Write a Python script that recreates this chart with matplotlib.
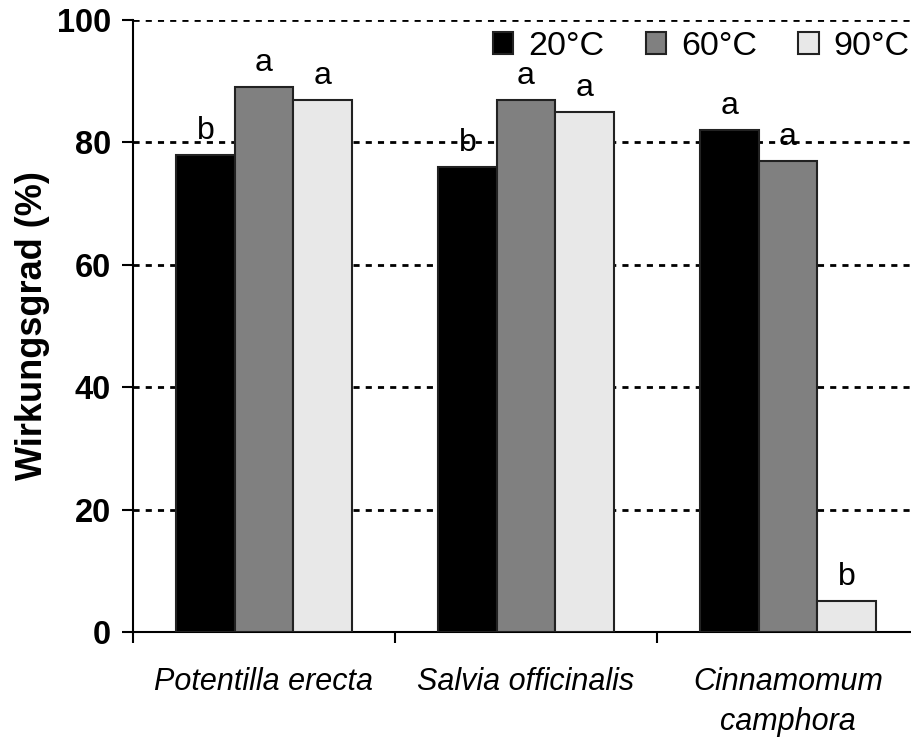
import matplotlib
matplotlib.use("Agg")
import matplotlib.pyplot as plt
import numpy as np

plt.rcParams['font.family'] = ['Liberation Sans', 'DejaVu Sans']

categories = ["Potentilla erecta", "Salvia officinalis", "Cinnamomum\ncamphora"]
series_names = ["20°C", "60°C", "90°C"]
values_20 = [78, 76, 82]
values_60 = [89, 87, 77]
values_90 = [87, 85, 5]
letters_20 = ["b", "b", "a"]
letters_60 = ["a", "a", "a"]
letters_90 = ["a", "a", "b"]
y_ticks = [0, 20, 40, 60, 80, 100]

colors = ["#000000", "#808080", "#e8e8e8"]

fig = plt.figure(figsize=(9.11, 7.37), dpi=100)
ax = fig.add_axes([133/911, 1-632/737, (919-133)/911, (632-20)/737])

x = np.arange(len(categories))
w = 0.223
all_vals = [values_20, values_60, values_90]
all_letters = [letters_20, letters_60, letters_90]
for i, (vals, lets) in enumerate(zip(all_vals, all_letters)):
    pos = x + (i - 1) * w
    ax.bar(pos, vals, width=w, color=colors[i], edgecolor="#222222",
           linewidth=1.5, label=series_names[i], zorder=3)
    for p, v, l in zip(pos, vals, lets):
        ax.annotate(l, (p, v), xytext=(0, 6.5), textcoords="offset points",
                    ha="center", va="bottom", fontsize=23, zorder=4)

ax.set_xlim(-0.5, 2.5)
ax.set_ylim(0, 100)
ax.set_yticks(y_ticks)
ax.set_yticklabels([str(t) for t in y_ticks], fontsize=23.5, fontweight="bold")
for t in y_ticks[1:]:
    ax.axhline(t, color="black", linewidth=2.0, linestyle=(0, (2.2, 2.2)), zorder=1)

ax.set_xticks(x)
ax.set_xticklabels(categories, fontsize=22, fontstyle="italic", linespacing=1.45)
ax.tick_params(axis="x", which="major", length=0, pad=25)
ax.set_xticks([-0.5, 0.5, 1.5], minor=True)
ax.tick_params(axis="x", which="minor", length=8, width=1.5, direction="out")
ax.tick_params(axis="y", length=8, width=1.5, direction="out", pad=8)

for s in ["top", "right"]:
    ax.spines[s].set_visible(False)
ax.spines["left"].set_linewidth(1.5)
ax.spines["bottom"].set_linewidth(1.5)

ax.set_ylabel("Wirkungsgrad (%)", fontsize=26, fontweight="bold", labelpad=5)

leg = ax.legend(loc="upper right", bbox_to_anchor=(910/911, 1-31/737),
                bbox_transform=fig.transFigure, ncol=3, frameon=False,
                fontsize=24.5, handlelength=0.6, handleheight=0.6,
                handletextpad=0.45, columnspacing=1.2, borderaxespad=0,
                borderpad=0)

fig.savefig("out.png", dpi=100)
